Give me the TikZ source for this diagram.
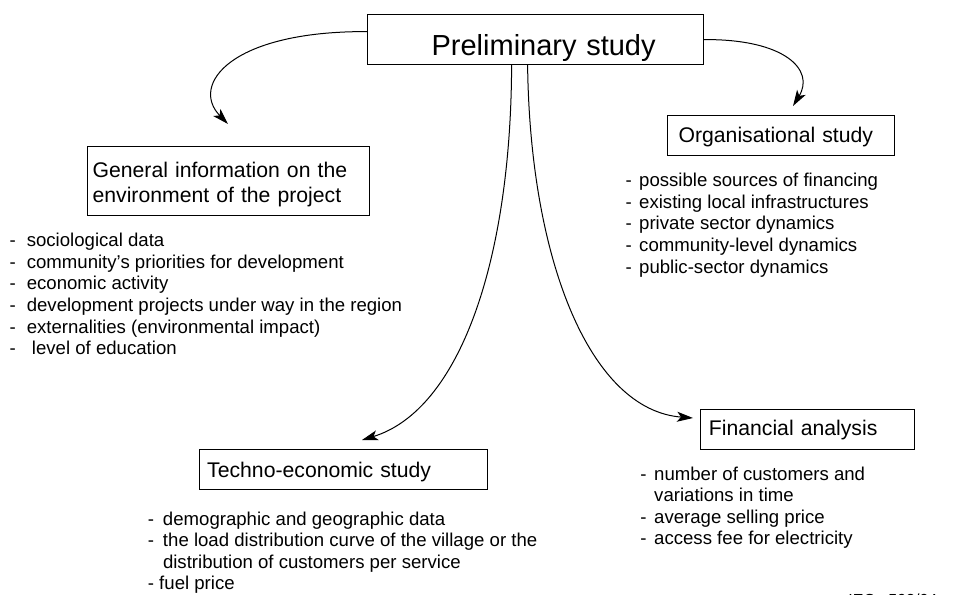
\documentclass[tikz,border=0pt]{standalone}
\usepackage{fontspec}
\setmainfont{Liberation Sans}
\usetikzlibrary{arrows.meta, calc}

\begin{document}
\begin{tikzpicture}[x=0.5pt, y=-0.5pt,
    box/.style={draw, line width=0.6pt, anchor=north west, inner ysep=0pt, align=left,
        font=\fontsize{10.6pt}{12.5pt}\selectfont},
    listing/.style={anchor=base west, inner sep=0pt, font=\fontsize{9.3pt}{10.83pt}\selectfont},
    link/.style={line width=0.5pt, -{Stealth[length=8pt, width=5pt, inset=2pt]}}]

    \useasboundingbox (0,0) rectangle (979,594);

    % Boxes
    \node[box, font=\fontsize{14.5pt}{17pt}\selectfont, align=right, inner xsep=24pt,
        text width=120pt, minimum height=25pt, text height=16pt, text depth=0pt]
        (prelim) at (367,14) {Preliminary study};
    \node[box, inner xsep=2.5pt, text width=136pt, minimum height=34.5pt,
        text height=8.5pt, text depth=12.5pt]
        (general) at (87,146) {General information on the\\environment of the project};
    \node[box, inner xsep=5.5pt, text width=102.5pt, minimum height=20pt,
        text height=7pt, text depth=0pt]
        (organ) at (667,115) {Organisational study};
    \node[box, inner xsep=3.8pt, text width=136.4pt, minimum height=20pt,
        text height=8pt, text depth=0pt]
        (techno) at (199,449) {Techno-economic study};
    \node[box, inner xsep=4.15pt, text width=98.7pt, minimum height=20pt,
        text height=6pt, text depth=0pt]
        (finance) at (700,409) {Financial analysis};

    % Lists under the boxes
    \node[listing] (generallist) at (9.2,246.5) {\begin{tabular}[t]{@{}p{8.6pt}@{}l@{}}
        - & sociological data\\
        - & community’s priorities for development\\
        - & economic activity\\
        - & development projects under way in the region\\
        - & externalities (environmental impact)\\
        - & \ level of education
    \end{tabular}};
    \node[listing] (organlist) at (625.2,186.5) {\begin{tabular}[t]{@{}p{6.8pt}@{}l@{}}
        - & possible sources of financing\\
        - & existing local infrastructures\\
        - & private sector dynamics\\
        - & community-level dynamics\\
        - & public-sector dynamics
    \end{tabular}};
    \node[listing] (technolist) at (147.5,525) {\begin{tabular}[t]{@{}p{7.55pt}@{}l@{}}
        - & demographic and geographic data\\
        - & the load distribution curve of the village or the\\
          & distribution of customers per service\\
        \multicolumn{2}{@{}l@{}}{- fuel price}
    \end{tabular}};
    \node[listing] (financelist) at (640,480) {\begin{tabular}[t]{@{}p{6.9pt}@{}l@{}}
        - & number of customers and\\
          & variations in time\\
        - & average selling price\\
        - & access fee for electricity
    \end{tabular}};

    % Figure number, cut by the lower edge
    \node[anchor=base west, inner sep=0pt, font=\fontsize{8pt}{9.6pt}\selectfont]
        (iec) at (848,605) {IEC\ \ \ 592/04};

    % Arrow tips
    \coordinate (generaltip) at (228,124);
    \coordinate (organtip) at (793,106);
    \coordinate (technotip) at (362,440);
    \coordinate (financetip) at (693,418);

    % Connectors
    \draw[link] ([yshift=4pt]prelim.west) .. controls (230,31) and (190,85) .. (generaltip);
    \draw[link] (prelim.east) .. controls (785,39) and (815,70) .. (organtip);
    \draw[link] ([xshift=-12pt]prelim.south) .. controls (511,260) and (460,410) .. (technotip);
    \draw[link] ([xshift=-4pt]prelim.south) .. controls (530,260) and (590,410) .. (financetip);
\end{tikzpicture}
\end{document}
